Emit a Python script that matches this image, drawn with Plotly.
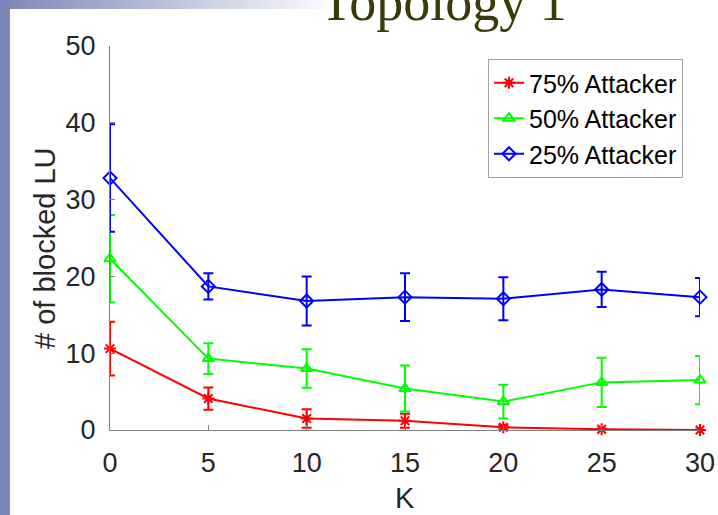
import base64
import plotly.graph_objects as go

K = [0, 5, 10, 15, 20, 25, 30]
a75 = [10.6, 4.1, 1.5, 1.2, 0.35, 0.1, 0.0]
a75_err = [3.5, 1.45, 1.2, 0.9, 0.3, 0.1, 0.05]
a50 = [22.3, 9.3, 8.0, 5.4, 3.7, 6.2, 6.5]
a50_err = [5.7, 2.0, 2.5, 3.0, 2.2, 3.2, 3.15]
a25 = [32.8, 18.7, 16.8, 17.3, 17.1, 18.3, 17.3]
a25_err = [7.0, 1.7, 3.2, 3.1, 2.8, 2.3, 2.5]

W, H = 718, 515
L, R, T, B = 110, 18, 46, 85
pw, ph = W - L - R, H - T - B

fig = go.Figure()
series = [
    ("75% Attacker", a75, a75_err, "#ff0000", "asterisk-open"),
    ("50% Attacker", a50, a50_err, "#00ff00", "triangle-up-open"),
    ("25% Attacker", a25, a25_err, "#0000ff", "diamond-open"),
]
for name, y, e, c, sym in series:
    fig.add_trace(go.Scatter(
        x=K, y=y, name=name, mode="lines+markers",
        line=dict(color=c, width=2),
        marker=dict(symbol=sym, size=10, color=c, line=dict(color=c, width=2)),
        error_y=dict(type="data", array=e, visible=True, color=c, thickness=2, width=5),
        cliponaxis=False,
    ))

svg = f'''<svg xmlns="http://www.w3.org/2000/svg" width="{W}" height="{H}" viewBox="0 0 {W} {H}">
<defs><linearGradient id="g" x1="0" x2="1" y1="0" y2="0">
<stop offset="0" stop-color="#7a86b8"/><stop offset="1" stop-color="#ffffff"/></linearGradient></defs>
<rect x="0" y="0" width="340" height="9" fill="url(#g)"/>
<rect x="0" y="0" width="10" height="{H}" fill="#7a86b8"/>
</svg>'''
src = "data:image/svg+xml;base64," + base64.b64encode(svg.encode()).decode()

fig.update_layout(
    width=W, height=H,
    margin=dict(l=L, r=R, t=T, b=B, pad=0, autoexpand=False),
    paper_bgcolor="white", plot_bgcolor="rgba(0,0,0,0)",
    showlegend=True,
    font=dict(family="Liberation Sans, Arial", color="#262626"),
    legend=dict(
        x=(683 - L) / pw, y=(H - B - 59) / ph, xanchor="right", yanchor="top",
        bgcolor="white", bordercolor="#a0a0a0", borderwidth=1,
        font=dict(size=25, color="#000000"),
        tracegroupgap=0, itemwidth=30,
    ),
    images=[dict(source=src, xref="paper", yref="paper",
                 x=-L / pw, y=(H - B) / ph, sizex=W / pw, sizey=H / ph,
                 sizing="stretch", xanchor="left", yanchor="top", layer="below")],
    annotations=[
        dict(text="Topology 1", xref="paper", yref="paper",
             x=(443 - L) / pw, y=(H - B - 19) / ph, xanchor="center", yanchor="bottom",
             showarrow=False, yshift=-15,
             font=dict(family="Liberation Serif, Times New Roman", size=54, color="#3a3a0a")),
        dict(text="K", xref="paper", yref="paper",
             x=(405 - L) / pw, y=(H - B - 498) / ph, xanchor="center", yanchor="middle",
             showarrow=False, font=dict(size=29, color="#262626")),
        dict(text="# of blocked LU", xref="paper", yref="paper",
             x=(45 - L) / pw, y=(H - B - 248) / ph, xanchor="center", yanchor="middle",
             showarrow=False, textangle=-90, font=dict(size=29, color="#262626")),
    ],
)
fig.update_xaxes(range=[0, 30], tickvals=K, ticks="inside", ticklen=5, tickcolor="#808080",
                 showline=True, linecolor="#808080", linewidth=1, showgrid=False, zeroline=False,
                 tickfont=dict(size=27, color="#262626"), ticklabelstandoff=9, mirror=False,
                 automargin=False)
fig.update_yaxes(range=[0, 50], tickvals=[0, 10, 20, 30, 40, 50], ticks="inside", ticklen=5,
                 tickcolor="#808080", showline=True, linecolor="#808080", linewidth=1,
                 showgrid=False, zeroline=False, tickfont=dict(size=27, color="#262626"),
                 ticklabelstandoff=8, automargin=False)

fig.write_html("out.html")
